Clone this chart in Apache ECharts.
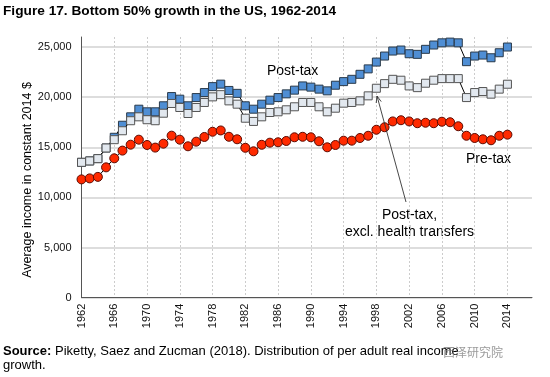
<!DOCTYPE html>
<html>
<head>
<meta charset="utf-8">
<script src="https://cdn.jsdelivr.net/npm/echarts@6/dist/echarts.min.js"></script>
<style>
  html, body { margin: 0; padding: 0; background: #fff; }
  #chart { width: 550px; height: 377px; }
</style>
</head>
<body>
<div id="chart"></div>
<script>
var years = [1962, 1963, 1964, 1965, 1966, 1967, 1968, 1969, 1970, 1971, 1972, 1973, 1974,
  1975, 1976, 1977, 1978, 1979, 1980, 1981, 1982, 1983, 1984, 1985, 1986, 1987, 1988,
  1989, 1990, 1991, 1992, 1993, 1994, 1995, 1996, 1997, 1998, 1999, 2000, 2001, 2002,
  2003, 2004, 2005, 2006, 2007, 2008, 2009, 2010, 2011, 2012, 2013, 2014]

var preTax = [11800, 11900, 12050, 13000, 13900, 14670, 15260, 15760, 15230, 14970, 15360, 16160, 15760,
  15100, 15560, 16030, 16550, 16680, 16050, 15800, 14950, 14600, 15250, 15460, 15500, 15630, 16000,
  16050, 16000, 15600, 15000, 15230, 15660, 15660, 15930, 16150, 16750, 17000, 17580, 17700, 17580,
  17400, 17450, 17400, 17550, 17500, 17100, 16150, 15930, 15800, 15700, 16150, 16260]

var postTax = [13500, 13640, 13870, 14930, 16000, 17200, 18040, 18800, 18540, 18540, 19140, 20060, 19800,
  19140, 19960, 20460, 21050, 21300, 20670, 20380, 19140, 18800, 19300, 19700, 19960, 20330, 20700,
  21120, 21000, 20800, 20630, 21190, 21550, 21780, 22280, 22820, 23500, 24100, 24600, 24700, 24330,
  24270, 24770, 25200, 25420, 25490, 25420, 23540, 24100, 24200, 23930, 24430, 25000]

var postTaxExHealth = [13500, 13640, 13870, 14930, 15760, 16650, 17650, 18040, 17750, 17650, 18400, 19370, 18970,
  18370, 18970, 19470, 20030, 20250, 19630, 19300, 17900, 17580, 18040, 18470, 18540, 18740, 19040,
  19470, 19470, 19040, 18540, 18900, 19400, 19470, 19630, 20130, 20890, 21350, 21780, 21690, 21120,
  20950, 21390, 21690, 21850, 21850, 21850, 19960, 20460, 20560, 20300, 20800, 21290]

var yTicks = [0, 5000, 10000, 15000, 20000, 25000]

var font = 'Liberation Sans, Arial, sans-serif'

function pairs(vals) {
  return years.map(function (y, i) { return [y, vals[i]] })
}

var chart = echarts.init(document.getElementById('chart'), null, { renderer: 'canvas' })

chart.setOption({
  animation: false,
  textStyle: { fontFamily: font },
  grid: { left: 81.5, right: 18, top: 37, bottom: 79.3 },
  xAxis: {
    type: 'value',
    min: 1962,
    max: 2017,
    interval: 4,
    axisLine: { lineStyle: { color: '#555', width: 1 } },
    axisTick: { show: false },
    axisLabel: {
      rotate: 90,
      margin: 6,
      fontSize: 11,
      color: '#111',
      showMaxLabel: false,
      formatter: function (v) { return String(v) }
    },
    splitLine: {
      show: true,
      showMaxLine: false,
      showMinLine: false,
      lineStyle: { color: '#cccccc', type: [2, 2], width: 1 }
    }
  },
  yAxis: {
    type: 'value',
    min: 0,
    max: 26000,
    interval: 5000,
    axisLine: { show: true, lineStyle: { color: '#555', width: 1 } },
    axisTick: { show: false },
    axisLabel: {
      margin: 10,
      fontSize: 11,
      color: '#111',
      showMaxLabel: false,
      formatter: function (v) {
        return yTicks.indexOf(v) >= 0 ? v.toLocaleString('en-US') : ''
      }
    },
    splitLine: {
      showMaxLine: false,
      lineStyle: { color: '#d2d2d2', width: 1.5 }
    }
  },
  series: [{
    name: 'Pre-tax',
    type: 'line',
    data: pairs(preTax),
    symbol: 'circle',
    symbolSize: 9,
    lineStyle: { color: '#000', width: 1 },
    itemStyle: { color: '#ff2a00', borderColor: '#5a0a00', borderWidth: 1 },
    z: 3
  }, {
    name: 'Post-tax',
    type: 'line',
    data: pairs(postTax),
    symbol: 'rect',
    symbolSize: 8,
    lineStyle: { color: '#000', width: 1 },
    itemStyle: { color: '#4f8ed4', borderColor: '#2a3a4a', borderWidth: 1 },
    z: 3
  }, {
    name: 'Post-tax, excl. health transfers',
    type: 'line',
    data: pairs(postTaxExHealth),
    symbol: 'rect',
    symbolSize: 8,
    lineStyle: { color: '#000', width: 1 },
    itemStyle: { color: '#e2e8ef', borderColor: '#555', borderWidth: 1 },
    z: 4
  }],
  graphic: [{
    type: 'text',
    left: 3,
    top: 4,
    style: { text: 'Figure 17. Bottom 50% growth in the US, 1962-2014', font: 'bold 13.7px ' + font, fill: '#000' }
  }, {
    type: 'text',
    x: 27.5,
    y: 180,
    rotation: Math.PI / 2,
    style: {
      text: 'Average income in constant 2014 $',
      font: '12.5px ' + font,
      fill: '#000',
      align: 'center',
      verticalAlign: 'middle'
    }
  }, {
    type: 'text',
    left: 267,
    top: 64,
    style: { text: 'Post-tax', font: '14px ' + font, fill: '#000' }
  }, {
    type: 'text',
    left: 466,
    top: 152,
    style: { text: 'Pre-tax', font: '14px ' + font, fill: '#000' }
  }, {
    type: 'text',
    x: 409.5,
    y: 207,
    style: {
      text: 'Post-tax,\nexcl. health transfers',
      font: '14px ' + font,
      fill: '#000',
      align: 'center',
      verticalAlign: 'top',
      lineHeight: 17
    }
  }, {
    // annotation arrow pointing at the post-tax excl. health series
    type: 'line',
    shape: { x1: 406, y1: 202, x2: 377, y2: 96 },
    style: { stroke: '#333', lineWidth: 0.9 },
    z: 10
  }, {
    type: 'polyline',
    shape: { points: [[376.2, 103], [377, 96], [381.2, 101.6]] },
    style: { stroke: '#333', lineWidth: 0.9, fill: null },
    z: 10
  }, {
    type: 'text',
    left: 3,
    top: 344,
    style: {
      rich: {
        b: { font: 'bold 13px ' + font, fill: '#000' },
        n: { font: '13px ' + font, fill: '#000' }
      },
      text: '{b|Source:}{n| Piketty, Saez and Zucman (2018). Distribution of per adult real income}\n{n|growth.}',
      lineHeight: 14
    }
  }, {
    type: 'text',
    left: 443,
    top: 346,
    style: { text: '西泽研究院', font: '12px "Noto Sans CJK SC"', fill: 'rgba(120,120,120,0.75)' }
  }]
})
</script>
</body>
</html>
